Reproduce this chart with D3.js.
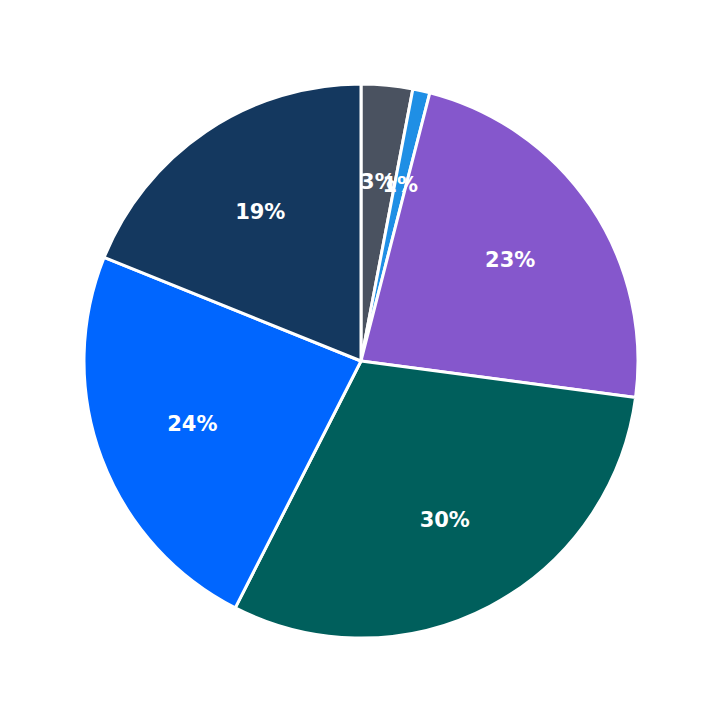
<!DOCTYPE html>
<html><head><meta charset="utf-8">
<script src="https://cdn.jsdelivr.net/npm/d3@7"></script>
<style>body{margin:0;background:#fff}</style></head>
<body><svg id="c" width="723" height="723"></svg>
<script>
const categories = ["A","B","C","D","E","F"];
const values = [3.0,1.0,23.1,30.4,23.6,18.9];
const colors = ["#4a5260","#1f8fe5","#8557cc","#005f5c","#0066ff","#14385f"];
const svg = d3.select("#c");
const g = svg.append("g").attr("transform","translate(361,361)");
const R = 277;
const total = d3.sum(values);
const pie = d3.pie().sort(null).value(d=>d.v);
const data = pie(categories.map((c,i)=>({c,v:values[i],col:colors[i]})));
const arc = d3.arc().innerRadius(0).outerRadius(R);
const lab = d3.arc().innerRadius(R*0.65).outerRadius(R*0.65);
g.selectAll("path").data(data).join("path").attr("d",arc)
 .attr("fill",d=>d.data.col).attr("stroke","#fff").attr("stroke-width",3).attr("stroke-linejoin","round");
g.selectAll("text").data(data).join("text")
 .attr("transform",d=>`translate(${lab.centroid(d)})`)
 .attr("text-anchor","middle").attr("dominant-baseline","central")
 .attr("fill","#fff").attr("font-family","DejaVu Sans").attr("font-weight","bold").attr("font-size",21)
 .text(d=>Math.round(d.data.v/total*100)+"%");
</script></body></html>
